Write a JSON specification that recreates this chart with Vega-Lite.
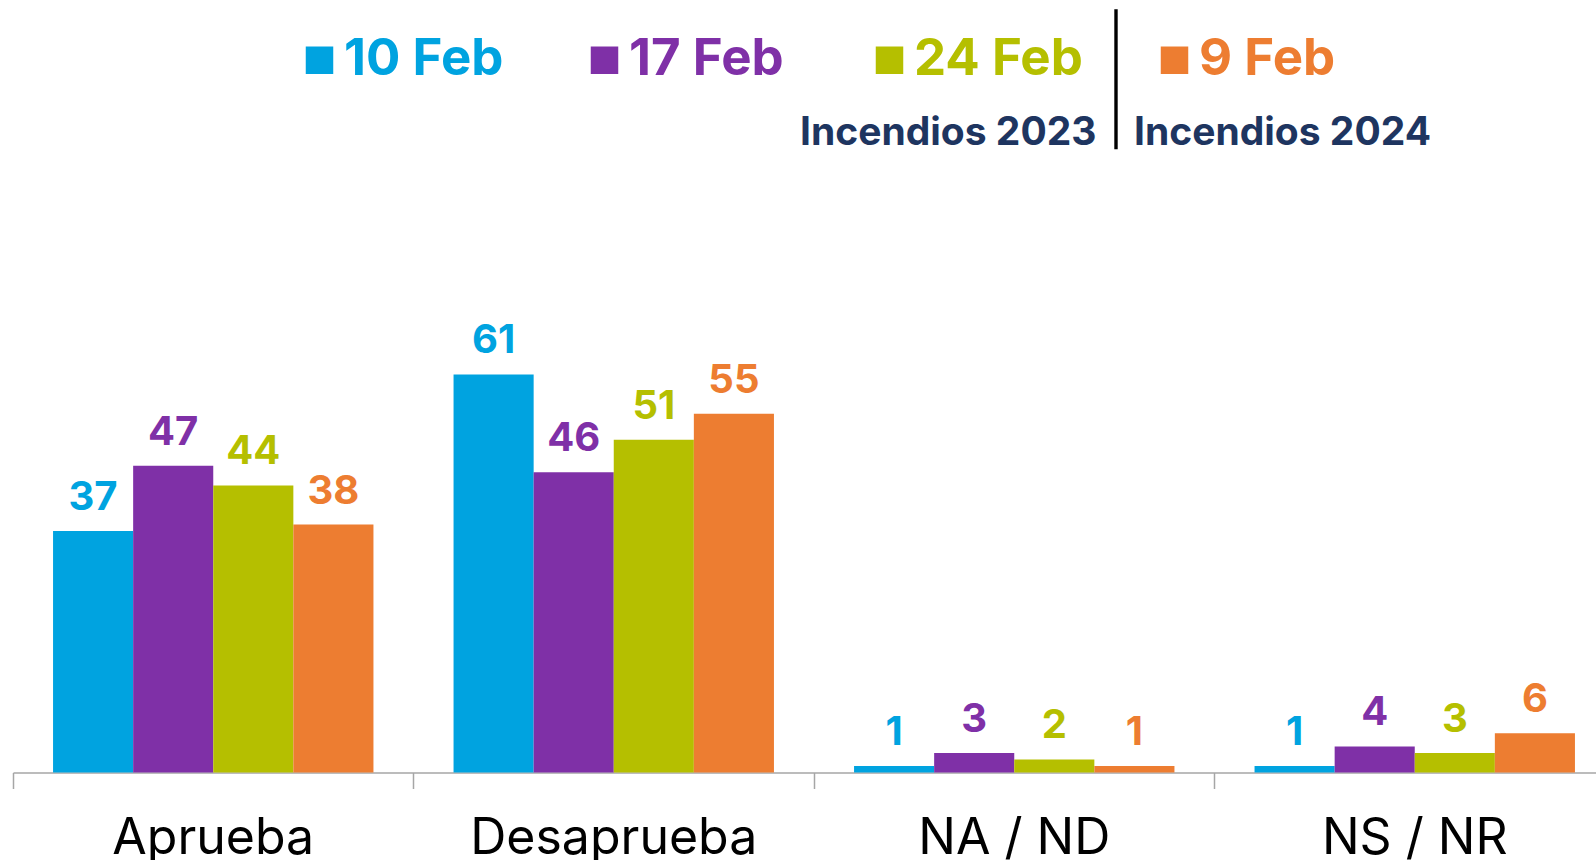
{
  "$schema": "https://vega.github.io/schema/vega-lite/v6.json",
  "width": 1583,
  "height": 652.5,
  "autosize": {"type": "none"},
  "padding": {"left": 13, "top": 120, "right": 0, "bottom": 87.5},
  "config": {"view": {"stroke": null}, "font": "Inter"},
  "data": {
    "values": [
      {"respuesta": "Aprueba", "fecha": "10 Feb", "periodo": "Incendios 2023", "valor": 37},
      {"respuesta": "Aprueba", "fecha": "17 Feb", "periodo": "Incendios 2023", "valor": 47},
      {"respuesta": "Aprueba", "fecha": "24 Feb", "periodo": "Incendios 2023", "valor": 44},
      {"respuesta": "Aprueba", "fecha": "9 Feb", "periodo": "Incendios 2024", "valor": 38},
      {"respuesta": "Desaprueba", "fecha": "10 Feb", "periodo": "Incendios 2023", "valor": 61},
      {"respuesta": "Desaprueba", "fecha": "17 Feb", "periodo": "Incendios 2023", "valor": 46},
      {"respuesta": "Desaprueba", "fecha": "24 Feb", "periodo": "Incendios 2023", "valor": 51},
      {"respuesta": "Desaprueba", "fecha": "9 Feb", "periodo": "Incendios 2024", "valor": 55},
      {"respuesta": "NA / ND", "fecha": "10 Feb", "periodo": "Incendios 2023", "valor": 1},
      {"respuesta": "NA / ND", "fecha": "17 Feb", "periodo": "Incendios 2023", "valor": 3},
      {"respuesta": "NA / ND", "fecha": "24 Feb", "periodo": "Incendios 2023", "valor": 2},
      {"respuesta": "NA / ND", "fecha": "9 Feb", "periodo": "Incendios 2024", "valor": 1},
      {"respuesta": "NS / NR", "fecha": "10 Feb", "periodo": "Incendios 2023", "valor": 1},
      {"respuesta": "NS / NR", "fecha": "17 Feb", "periodo": "Incendios 2023", "valor": 4},
      {"respuesta": "NS / NR", "fecha": "24 Feb", "periodo": "Incendios 2023", "valor": 3},
      {"respuesta": "NS / NR", "fecha": "9 Feb", "periodo": "Incendios 2024", "valor": 6}
    ]
  },
  "encoding": {
    "x": {
      "field": "respuesta",
      "type": "nominal",
      "sort": ["Aprueba", "Desaprueba", "NA / ND", "NS / NR"],
      "scale": {"range": [0, 1602], "paddingInner": 0, "paddingOuter": 0},
      "axis": {
        "title": null,
        "bandPosition": 0,
        "labelAngle": 0,
        "labelFont": "Inter",
        "labelFontSize": 50,
        "labelColor": "#000000",
        "labelPadding": 25,
        "labelLimit": 0,
        "tickSize": 16,
        "tickColor": "#A6A6A6",
        "tickWidth": 1.5,
        "domainColor": "#A6A6A6",
        "domainWidth": 1.5,
        "grid": false
      }
    },
    "xOffset": {
      "field": "fecha",
      "type": "nominal",
      "sort": ["10 Feb", "17 Feb", "24 Feb", "9 Feb"],
      "scale": {"paddingInner": 0, "paddingOuter": 0.5}
    },
    "y": {
      "field": "valor",
      "type": "quantitative",
      "scale": {"domain": [0, 100], "nice": false, "zero": true},
      "axis": null
    },
    "color": {
      "field": "fecha",
      "type": "nominal",
      "sort": ["10 Feb", "17 Feb", "24 Feb", "9 Feb"],
      "scale": {
        "domain": ["10 Feb", "17 Feb", "24 Feb", "9 Feb"],
        "range": ["#00A3E0", "#7F30A7", "#B5BF00", "#ED7D31"]
      },
      "legend": {
        "title": null,
        "orient": "none",
        "direction": "horizontal",
        "legendX": 281,
        "legendY": -85.5,
        "padding": 0,
        "symbolType": "square",
        "symbolSize": 756,
        "symbolStrokeWidth": 0,
        "symbolOpacity": 1,
        "labelFont": "Inter",
        "labelFontSize": 51,
        "labelFontWeight": "bold",
        "labelOffset": -1,
        "labelLimit": 0,
        "columnPadding": 66,
        "gridAlign": "all",
        "labelColor": {"expr": "datum.value == '10 Feb' ? '#00A3E0' : datum.value == '17 Feb' ? '#7F30A7' : datum.value == '24 Feb' ? '#B5BF00' : '#ED7D31'"}
      }
    }
  },
  "layer": [
    {
      "mark": {"type": "bar"},
      "encoding": {
        "strokeDash": {
          "field": "periodo",
          "type": "nominal",
          "scale": {"domain": ["Incendios 2023", "Incendios 2024"], "range": [[1, 0], [1, 0]]},
          "legend": {
            "title": null,
            "orient": "none",
            "direction": "horizontal",
            "legendX": 749.5,
            "legendY": -6.5,
            "padding": 0,
            "symbolType": "M0,-62V8",
            "symbolSize": 16,
            "symbolStrokeWidth": 3.4,
            "symbolFillColor": "transparent",
            "symbolStrokeColor": {"expr": "datum.value == 'Incendios 2024' ? '#000000' : 'transparent'"},
            "labelFont": "Inter",
            "labelFontSize": 39,
            "labelFontWeight": "bold",
            "labelColor": "#1E3560",
            "labelOffset": -1.5,
            "labelLimit": 0,
            "columnPadding": 0
          }
        }
      }
    },
    {
      "mark": {"type": "text", "baseline": "alphabetic", "dy": -21, "fontSize": 40, "fontWeight": "bold", "font": "Inter"},
      "encoding": {
        "text": {"field": "valor", "type": "quantitative"}
      }
    }
  ]
}
